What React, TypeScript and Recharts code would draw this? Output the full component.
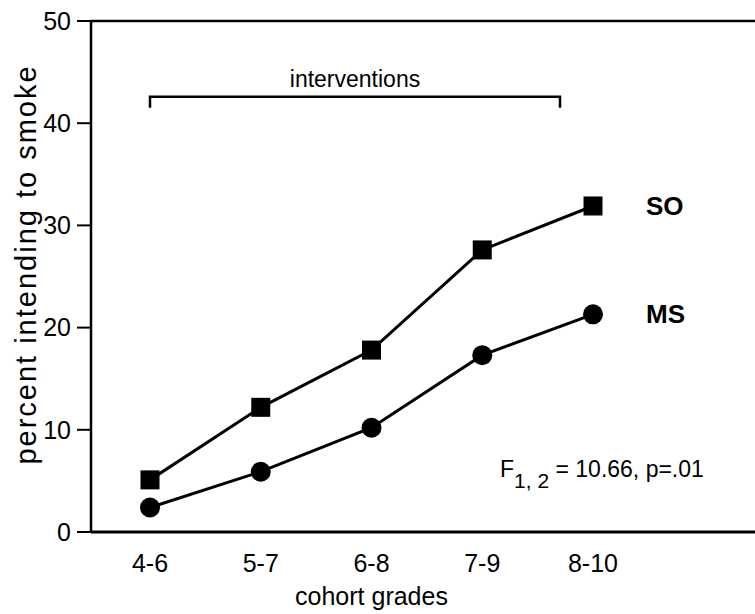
import { LineChart, Line, XAxis, YAxis, ReferenceLine, ReferenceDot } from 'recharts';

const grades = ['4-6', '5-7', '6-8', '7-9', '8-10'];
const soValues = [5.1, 12.2, 17.8, 27.6, 31.9];
const msValues = [2.4, 5.9, 10.2, 17.3, 21.3];
const yTicks = [0, 10, 20, 30, 40, 50];

const FONT = '"Liberation Sans", Arial, Helvetica, sans-serif';
const PAD_LEFT = 59;
const PAD_RIGHT = 162;

const data = grades.map((g, i) => ({ grade: g, so: soValues[i], ms: msValues[i] }));

function SquareDot(p: any) {
  if (p.cx == null || p.cy == null) return null;
  return <rect key={`sq-${p.index}`} x={p.cx - 9.5} y={p.cy - 9.5} width={19} height={19} fill="#000" />;
}

function CircleDot(p: any) {
  if (p.cx == null || p.cy == null) return null;
  return <circle key={`ci-${p.index}`} cx={p.cx} cy={p.cy} r={10} fill="#000" />;
}

function seriesLabel(name: string) {
  return (p: any) => {
    if (p.index !== grades.length - 1) return null;
    return (
      <text
        key={`lbl-${name}`}
        x={p.x + 53}
        y={p.y + 9}
        fontFamily={FONT}
        fontSize={26}
        fontWeight="bold"
        fill="#000"
      >
        {name}
      </text>
    );
  };
}

function Bracket(p: any) {
  const { x1, y1, x2 } = p;
  const end = x2 - 33;
  return (
    <g>
      <path d={`M${x1},${y1 + 11} V${y1} H${end} V${y1 + 11}`} stroke="#000" strokeWidth={2.5} fill="none" />
      <text x={(x1 + end) / 2} y={y1 - 10} textAnchor="middle" fontFamily={FONT} fontSize={23} fill="#000">
        interventions
      </text>
    </g>
  );
}

function StatNote(p: any) {
  return (
    <text x={p.cx - 93} y={p.cy} fontFamily={FONT} fontSize={23} fill="#000">
      F
      <tspan fontSize={21} dy={11}>1, 2</tspan>
      <tspan dy={-11}>{' = 10.66, p=.01'}</tspan>
    </text>
  );
}

export default function App() {
  return (
    <div style={{ position: 'absolute', left: 0, top: 0, background: '#fff' }}>
      <LineChart width={755} height={614} data={data} margin={{ top: 21, right: 0, bottom: 0, left: 0 }}>
        <XAxis
          dataKey="grade"
          type="category"
          padding={{ left: PAD_LEFT, right: PAD_RIGHT }}
          height={82}
          axisLine={{ stroke: '#000', strokeWidth: 3 }}
          tickLine={false}
          tickSize={6}
          tickMargin={16}
          tick={{ fill: '#000', fontSize: 25, fontFamily: FONT }}
          label={(props: any) => {
            const vb = props.viewBox;
            const cx = vb.x + PAD_LEFT + (vb.width - PAD_LEFT - PAD_RIGHT) / 2;
            return (
              <text x={cx} y={vb.y + 73} textAnchor="middle" fontFamily={FONT} fontSize={25} fill="#000">
                cohort grades
              </text>
            );
          }}
        />
        <YAxis
          domain={[0, 50]}
          ticks={yTicks}
          width={91}
          axisLine={{ stroke: '#000', strokeWidth: 2.5 }}
          tickLine={{ stroke: '#000', strokeWidth: 2 }}
          tickSize={14}
          tickMargin={6}
          tick={{ fill: '#000', fontSize: 25, fontFamily: FONT }}
          label={(props: any) => {
            const vb = props.viewBox;
            const cx = vb.x + 26;
            const cy = vb.y + vb.height / 2 - 12;
            return (
              <text
                x={cx}
                y={cy}
                transform={`rotate(-90, ${cx}, ${cy})`}
                textAnchor="middle"
                dominantBaseline="central"
                fontFamily={FONT}
                fontSize={29}
                letterSpacing={2}
                fill="#000"
              >
                percent intending to smoke
              </text>
            );
          }}
        />
        <ReferenceLine y={50} stroke="#000" strokeWidth={2.5} />
        <ReferenceLine
          segment={[{ x: '4-6', y: 42.6 }, { x: '8-10', y: 42.6 }]}
          shape={Bracket}
        />
        <ReferenceDot x="8-10" y={5.4} r={0} shape={StatNote} />
        <Line
          dataKey="so"
          stroke="#000"
          strokeWidth={3}
          dot={SquareDot}
          activeDot={false}
          label={seriesLabel('SO')}
          isAnimationActive={false}
        />
        <Line
          dataKey="ms"
          stroke="#000"
          strokeWidth={3}
          dot={CircleDot}
          activeDot={false}
          label={seriesLabel('MS')}
          isAnimationActive={false}
        />
      </LineChart>
    </div>
  );
}
